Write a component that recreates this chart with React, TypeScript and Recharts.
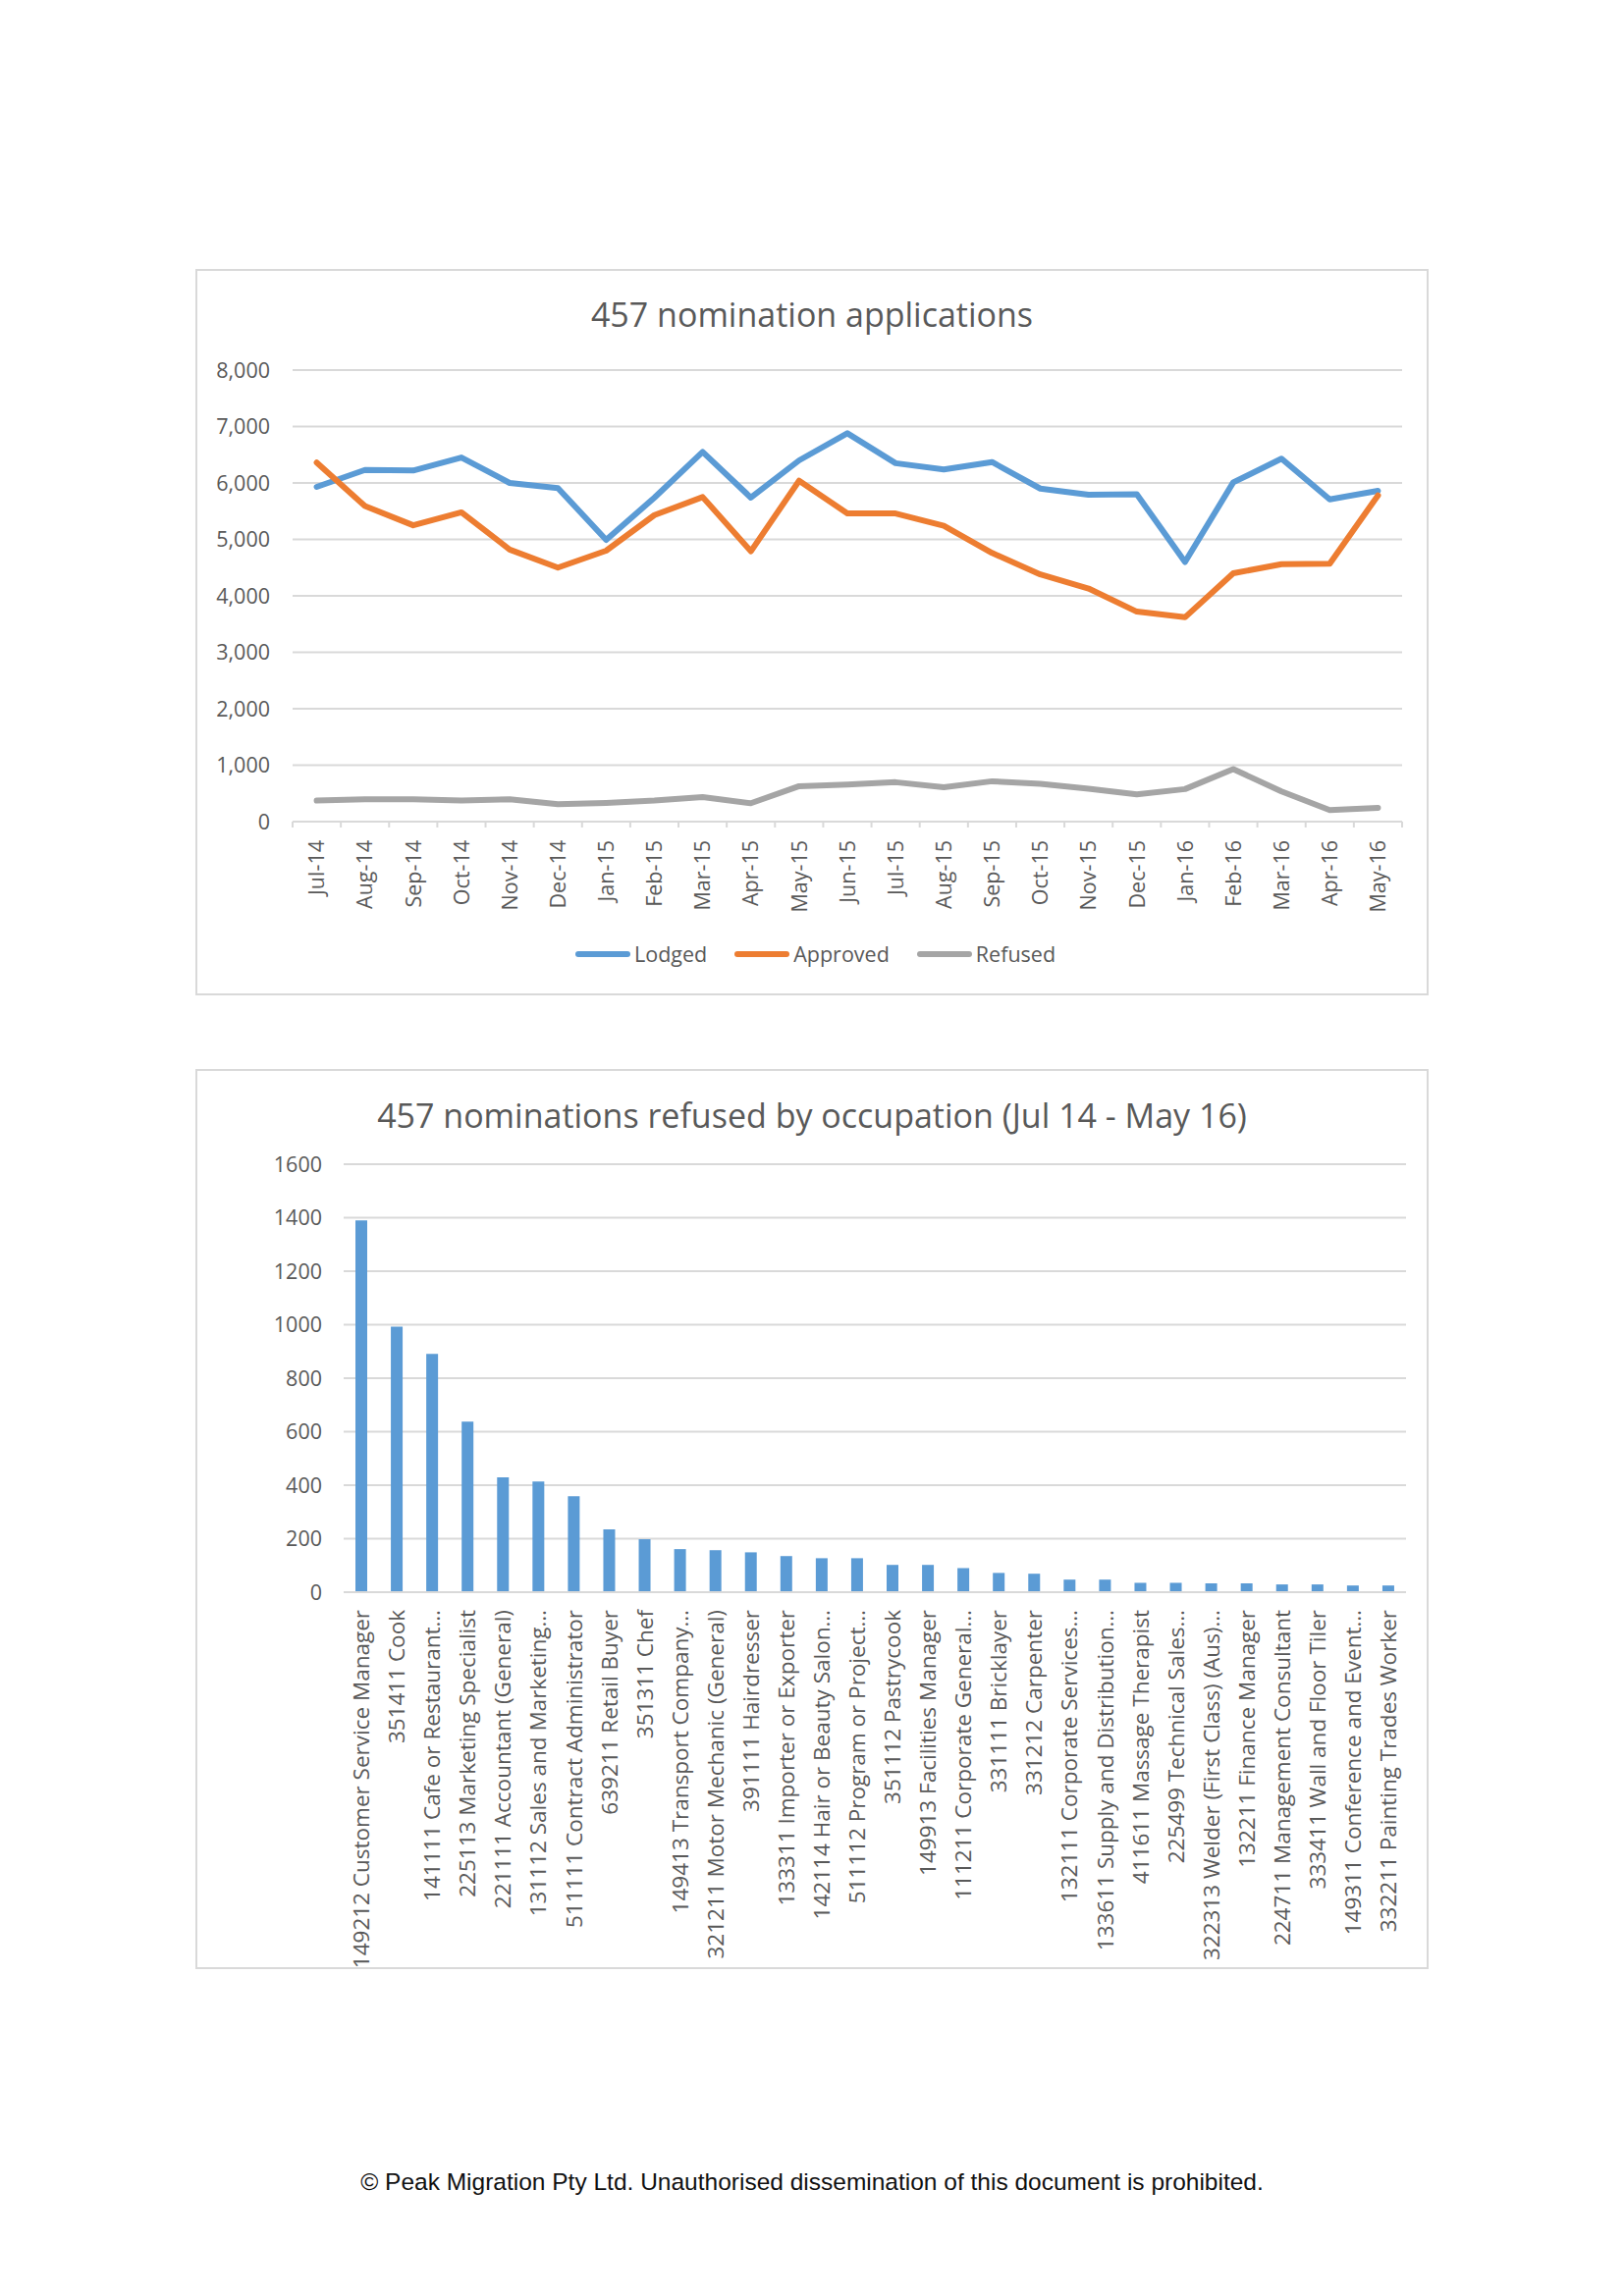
import React from 'react';
import { LineChart, Line, BarChart, Bar, XAxis, YAxis, CartesianGrid } from 'recharts';

const months = ['Jul-14','Aug-14','Sep-14','Oct-14','Nov-14','Dec-14','Jan-15','Feb-15','Mar-15','Apr-15','May-15','Jun-15','Jul-15','Aug-15','Sep-15','Oct-15','Nov-15','Dec-15','Jan-16','Feb-16','Mar-16','Apr-16','May-16'];
const lodged = [5930, 6230, 6220, 6450, 6000, 5910, 4990, 5740, 6550, 5740, 6400, 6880, 6350, 6240, 6370, 5900, 5790, 5800, 4600, 6010, 6430, 5710, 5860];
const approved = [6360, 5590, 5250, 5480, 4820, 4500, 4800, 5430, 5750, 4790, 6040, 5460, 5460, 5240, 4760, 4380, 4130, 3720, 3620, 4400, 4560, 4570, 5780];
const refused = [372, 395, 395, 372, 395, 308, 331, 372, 436, 326, 628, 657, 698, 610, 715, 669, 581, 483, 576, 930, 535, 203, 244];
const lineTicks = [0, 1000, 2000, 3000, 4000, 5000, 6000, 7000, 8000];

const seriesKeys = ['lodged', 'approved', 'refused'];
const seriesNames = ['Lodged', 'Approved', 'Refused'];
const seriesColors = ['#5B9BD5', '#ED7D31', '#A5A5A5'];

const occupations = [
  '149212 Customer Service Manager',
  '351411 Cook',
  '141111 Cafe or Restaurant…',
  '225113 Marketing Specialist',
  '221111 Accountant (General)',
  '131112 Sales and Marketing…',
  '511111 Contract Administrator',
  '639211 Retail Buyer',
  '351311 Chef',
  '149413 Transport Company…',
  '321211 Motor Mechanic (General)',
  '391111 Hairdresser',
  '133311 Importer or Exporter',
  '142114 Hair or Beauty Salon…',
  '511112 Program or Project…',
  '351112 Pastrycook',
  '149913 Facilities Manager',
  '111211 Corporate General…',
  '331111 Bricklayer',
  '331212 Carpenter',
  '132111 Corporate Services…',
  '133611 Supply and Distribution…',
  '411611 Massage Therapist',
  '225499 Technical Sales…',
  '322313 Welder (First Class) (Aus)…',
  '132211 Finance Manager',
  '224711 Management Consultant',
  '333411 Wall and Floor Tiler',
  '149311 Conference and Event…',
  '332211 Painting Trades Worker',
];
const refusedByOccupation = [1390, 993, 891, 638, 429, 414, 359, 235, 198, 161, 157, 149, 135, 127, 127, 102, 102, 90, 72, 69, 47, 47, 35, 35, 33, 33, 29, 29, 25, 25];
const barTicks = [0, 200, 400, 600, 800, 1000, 1200, 1400, 1600];

const lineTitle = '457 nomination applications';
const barTitle = '457 nominations refused by occupation (Jul 14 - May 16)';
const footerText = '© Peak Migration Pty Ltd. Unauthorised dissemination of this document is prohibited.';

const lineData = months.map((m, i) => ({ month: m, lodged: lodged[i], approved: approved[i], refused: refused[i] }));
const barData = occupations.map((o, i) => ({ occupation: o, refused: refusedByOccupation[i] }));

const FONT = '"Open Sans", "DejaVu Sans", sans-serif';
const TXT = '#595959';
const GRID = '#d9d9d9';
const TICK_FS = 21.5;
const CAT_FS = 22.5;

const LINE_W = 1254;
const LINE_H = 738;
const LINE_MARGIN = { top: 102, right: 26, left: 0, bottom: 0 };
const LINE_YW = 98;
const LINE_PLOT_W = LINE_W - LINE_MARGIN.right - LINE_MARGIN.left - LINE_YW;
const LINE_BAND = LINE_PLOT_W / months.length;

const BAR_W = 1254;
const BAR_H = 915;
const BAR_MARGIN = { top: 96, right: 22, left: 0, bottom: 0 };
const BAR_YW = 150;

function MonthTick(props: any) {
  const { x, y, payload, index } = props;
  const last = index === months.length - 1;
  return (
    <g transform={`translate(${x},${y})`}>
      <line x1={-LINE_BAND / 2} x2={-LINE_BAND / 2} y1={0} y2={6} stroke={GRID} strokeWidth={2} />
      {last && <line x1={LINE_BAND / 2} x2={LINE_BAND / 2} y1={0} y2={6} stroke={GRID} strokeWidth={2} />}
      <text transform="rotate(-90)" x={-19} y={0} dy="0.36em" textAnchor="end" fill={TXT} fontSize={TICK_FS} fontFamily={FONT}>
        {payload.value}
      </text>
    </g>
  );
}

function OccTick(props: any) {
  const { x, y, payload } = props;
  return (
    <g transform={`translate(${x},${y})`}>
      <text transform="rotate(-90)" x={-18} y={0} dy="0.36em" textAnchor="end" fill={TXT} fontSize={CAT_FS} fontFamily={FONT}>
        {payload.value}
      </text>
    </g>
  );
}

const boxStyle = (top: number, height: number): React.CSSProperties => ({
  position: 'absolute',
  left: 199,
  top,
  width: 1256,
  height,
  border: `2px solid ${GRID}`,
  boxSizing: 'border-box',
});

const titleStyle = (top: number): React.CSSProperties => ({
  position: 'absolute',
  left: 0,
  top,
  width: 1654,
  textAlign: 'center',
  fontFamily: FONT,
  fontSize: 34,
  lineHeight: '34px',
  color: TXT,
  whiteSpace: 'nowrap',
});

export default function App() {
  return (
    <div style={{ position: 'absolute', left: 0, top: 0, width: 1654, height: 2339, background: '#fff', overflow: 'hidden' }}>
      <div style={boxStyle(274, 740)} />
      <div style={titleStyle(303)}>{lineTitle}</div>
      <div style={{ position: 'absolute', left: 200, top: 275 }}>
        <LineChart width={LINE_W} height={LINE_H} data={lineData} margin={LINE_MARGIN}>
          <CartesianGrid vertical={false} stroke={GRID} strokeWidth={2} />
          <XAxis
            dataKey="month"
            interval={0}
            height={LINE_H - LINE_MARGIN.top - 460}
            padding={{ left: LINE_BAND / 2, right: LINE_BAND / 2 }}
            axisLine={{ stroke: GRID, strokeWidth: 2 }}
            tickLine={false}
            tickSize={0}
            tickMargin={0}
            tick={MonthTick}
          />
          <YAxis
            width={LINE_YW}
            domain={[0, 8000]}
            ticks={lineTicks}
            interval={0}
            axisLine={false}
            tickLine={false}
            tickSize={0}
            tickMargin={23}
            tickFormatter={(v: number) => v.toLocaleString('en-US')}
            tick={{ fill: TXT, fontSize: TICK_FS, fontFamily: FONT }}
          />
          {seriesKeys.map((k, i) => (
            <Line
              key={k}
              type="linear"
              dataKey={k}
              name={seriesNames[i]}
              stroke={seriesColors[i]}
              strokeWidth={6}
              strokeLinejoin="round"
              strokeLinecap="round"
              dot={false}
              activeDot={false}
              isAnimationActive={false}
            />
          ))}
        </LineChart>
      </div>
      <div style={{ position: 'absolute', left: 586, top: 960, display: 'flex', alignItems: 'center', fontFamily: FONT, fontSize: TICK_FS, lineHeight: '24px', color: TXT, whiteSpace: 'nowrap' }}>
        {seriesNames.map((n, i) => (
          <div key={n} style={{ display: 'flex', alignItems: 'center', marginRight: 28 }}>
            <span style={{ display: 'inline-block', width: 56, height: 6, borderRadius: 3, background: seriesColors[i], marginRight: 4 }} />
            <span>{n}</span>
          </div>
        ))}
      </div>

      <div style={boxStyle(1089, 917)} />
      <div style={titleStyle(1119)}>{barTitle}</div>
      <div style={{ position: 'absolute', left: 200, top: 1090 }}>
        <BarChart width={BAR_W} height={BAR_H} data={barData} margin={BAR_MARGIN}>
          <CartesianGrid vertical={false} stroke={GRID} strokeWidth={2} />
          <XAxis
            dataKey="occupation"
            interval={0}
            height={BAR_H - BAR_MARGIN.top - 436}
            axisLine={{ stroke: GRID, strokeWidth: 2 }}
            tickLine={false}
            tickSize={0}
            tickMargin={0}
            tick={OccTick}
          />
          <YAxis
            width={BAR_YW}
            domain={[0, 1600]}
            ticks={barTicks}
            interval={0}
            axisLine={false}
            tickLine={false}
            tickSize={0}
            tickMargin={22}
            tick={{ fill: TXT, fontSize: TICK_FS, fontFamily: FONT }}
          />
          <Bar dataKey="refused" fill="#5B9BD5" barSize={12} isAnimationActive={false} />
        </BarChart>
      </div>

      <div style={{ position: 'absolute', left: 0, top: 2210, width: 1654, textAlign: 'center', fontFamily: '"Liberation Sans", Arial, sans-serif', fontSize: 24.5, lineHeight: '26px', color: '#111', whiteSpace: 'nowrap' }}>
        {footerText}
      </div>
    </div>
  );
}
